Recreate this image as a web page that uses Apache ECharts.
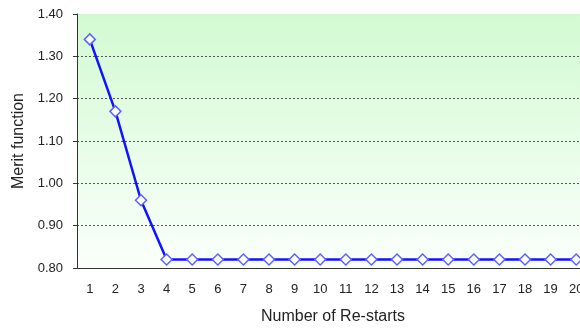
<!DOCTYPE html>
<html>
<head>
<meta charset="utf-8">
<script src="https://cdn.jsdelivr.net/npm/echarts@6/dist/echarts.min.js"></script>
<style>
  html, body { margin: 0; padding: 0; background: #ffffff; }
  #chart { width: 580px; height: 330px; }
</style>
</head>
<body>
<div id="chart"></div>
<script>
// Merit function value after each re-start
const restarts = ['1','2','3','4','5','6','7','8','9','10','11','12','13','14','15','16','17','18','19','20'];
const meritValues = [1.34, 1.17, 0.96, 0.82, 0.82, 0.82, 0.82, 0.82, 0.82, 0.82,
                     0.82, 0.82, 0.82, 0.82, 0.82, 0.82, 0.82, 0.82, 0.82, 0.82];
const yMin = 0.80, yMax = 1.40, yStep = 0.10;

const chart = echarts.init(document.getElementById('chart'), null, { renderer: 'canvas' });
const font = 'Liberation Sans, Arial, sans-serif';

chart.setOption({
  animation: false,
  grid: {
    left: 77, top: 14, width: 512, height: 254,
    outerBoundsMode: 'none',
    containLabel: false,
    show: true,
    borderWidth: 0,
    backgroundColor: new echarts.graphic.LinearGradient(0, 0, 0, 1, [
      { offset: 0, color: '#d2fad2' },
      { offset: 1, color: '#fbfffb' }
    ])
  },
  xAxis: {
    type: 'category',
    data: restarts,
    boundaryGap: true,
    name: 'Number of Re-starts',
    nameLocation: 'middle',
    nameGap: 41,
    nameTextStyle: { fontFamily: font, fontSize: 16, color: '#222' },
    axisLine: { lineStyle: { color: '#333', width: 1 } },
    axisTick: { alignWithLabel: false, length: 4, lineStyle: { color: '#333' } },
    axisLabel: { fontFamily: font, fontSize: 13, color: '#222', margin: 15, interval: 0 },
    splitLine: { show: false }
  },
  yAxis: {
    type: 'value',
    min: yMin, max: yMax, interval: yStep,
    name: 'Merit function',
    nameLocation: 'middle',
    nameGap: 50,
    nameTextStyle: { fontFamily: font, fontSize: 16, color: '#222' },
    axisLine: { show: true, lineStyle: { color: '#333', width: 1 } },
    axisTick: { show: true, length: 4, lineStyle: { color: '#333' } },
    axisLabel: {
      fontFamily: font, fontSize: 13, color: '#222', margin: 14,
      formatter: v => v.toFixed(2)
    },
    splitLine: {
      show: true, showMinLine: false, showMaxLine: false,
      lineStyle: { color: '#555', type: [2, 2], width: 1 }
    }
  },
  series: [{
    type: 'line',
    data: meritValues,
    symbol: 'diamond',
    symbolSize: 11,
    lineStyle: { color: '#1212ff', width: 2.5 },
    itemStyle: { color: '#ffffff', borderColor: '#5b63ff', borderWidth: 1.5 },
    z: 3
  }]
});
</script>
</body>
</html>
